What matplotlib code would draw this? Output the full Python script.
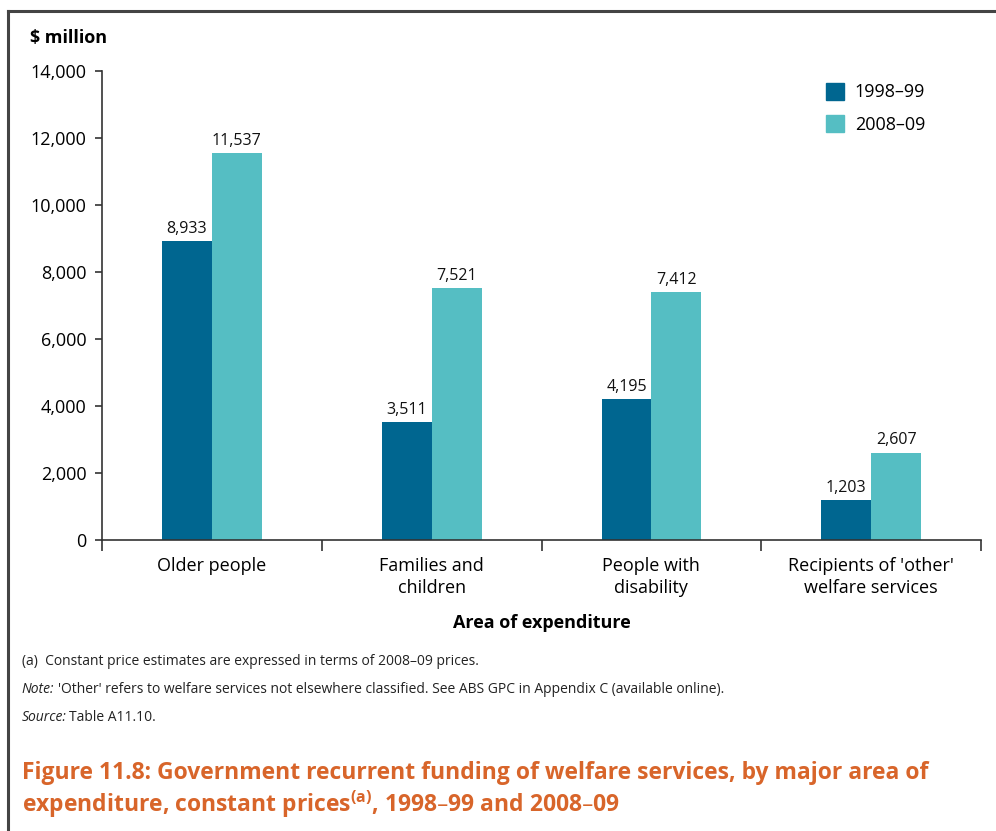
import matplotlib.pyplot as plt
import numpy as np
from matplotlib.lines import Line2D

plt.rcParams['font.family'] = ['Open Sans', 'DejaVu Sans']

areas = ['Older people', 'Families and\nchildren', 'People with\ndisability',
         "Recipients of 'other'\nwelfare services"]
years = ['1998–99', '2008–09']
funding_1998 = [8933, 3511, 4195, 1203]
funding_2008 = [11537, 7521, 7412, 2607]
colors = ['#006690', '#55BEC3']
orange = '#D8652A'
ink = '#222222'

fig = plt.figure(figsize=(9.96, 8.31), dpi=100)
ax = fig.add_axes([0.1024, 0.3502, 0.8826, 0.5644])

x = np.arange(len(areas))
w = 0.227
b1 = ax.bar(x - w / 2, funding_1998, w, color=colors[0], label=years[0])
b2 = ax.bar(x + w / 2, funding_2008, w, color=colors[1], label=years[1])
for bars in (b1, b2):
    for r in bars:
        ax.annotate(f'{int(r.get_height()):,}', (r.get_x() + r.get_width() / 2, r.get_height()),
                    xytext=(0, 3), textcoords='offset points', ha='center', va='bottom',
                    fontsize=11.5, color='#111111')

ax.set_xlim(-0.5, len(areas) - 0.5)
ax.set_ylim(0, 14000)
ax.set_yticks(range(0, 14001, 2000))
ax.set_yticklabels([f'{v:,}' for v in range(0, 14001, 2000)], fontsize=13)
ax.tick_params(axis='y', length=5, width=1.2, pad=6, color='#333333')

# boundary ticks on x axis, category names on minor ticks
ax.set_xticks(np.arange(-0.5, len(areas)), labels=[''] * (len(areas) + 1))
ax.tick_params(axis='x', which='major', length=8, width=1.2, color='#333333')
ax.set_xticks(x, labels=areas, minor=True)
ax.tick_params(axis='x', which='minor', length=0, pad=12, labelsize=13)
for lbl in ax.get_xticklabels(minor=True):
    lbl.set_linespacing(1.3)

for s in ['top', 'right']:
    ax.spines[s].set_visible(False)
for s in ['left', 'bottom']:
    ax.spines[s].set_linewidth(1.2)
    ax.spines[s].set_color('#333333')

ax.set_xlabel('Area of expenditure', fontsize=13, fontweight='bold', labelpad=12)
fig.text(0.030, 0.954, '$ million', fontsize=13, fontweight='bold', va='center')

handles = [plt.Rectangle((0, 0), 1, 1, color=c) for c in colors]
ax.legend(handles, years, loc='upper right', bbox_to_anchor=(0.955, 1.01), frameon=False,
          fontsize=13, handlelength=1.0, handleheight=1.1, labelspacing=0.75, handletextpad=0.6)

# frame lines along the left and top edges
fig.add_artist(Line2D([0.0085, 0.0085], [0, 0.987], color='#444444', lw=2.2))
fig.add_artist(Line2D([0.0085, 1.0], [0.987, 0.987], color='#444444', lw=2.2))

fig.text(0.022, 0.204, '(a)  Constant price estimates are expressed in terms of 2008–09 prices.',
         fontsize=10, color=ink, va='center')
fig.text(0.022, 0.170, 'Note:', fontsize=10, style='italic', color=ink, va='center')
fig.text(0.058, 0.170, "'Other' refers to welfare services not elsewhere classified. "
         "See ABS GPC in Appendix C (available online).", fontsize=10, color=ink, va='center')
fig.text(0.022, 0.137, 'Source:', fontsize=10, style='italic', color=ink, va='center')
fig.text(0.069, 0.137, 'Table A11.10.', fontsize=10, color=ink, va='center')

fig.text(0.022, 0.049, 'Figure 11.8: Government recurrent funding of welfare services, by major area of\n'
         'expenditure, constant prices$^{\\mathregular{(a)}}$, 1998–99 and 2008–09',
         fontsize=16.5, fontweight='bold', color=orange, va='center', linespacing=1.15)

fig.savefig('out.png', dpi=100)
